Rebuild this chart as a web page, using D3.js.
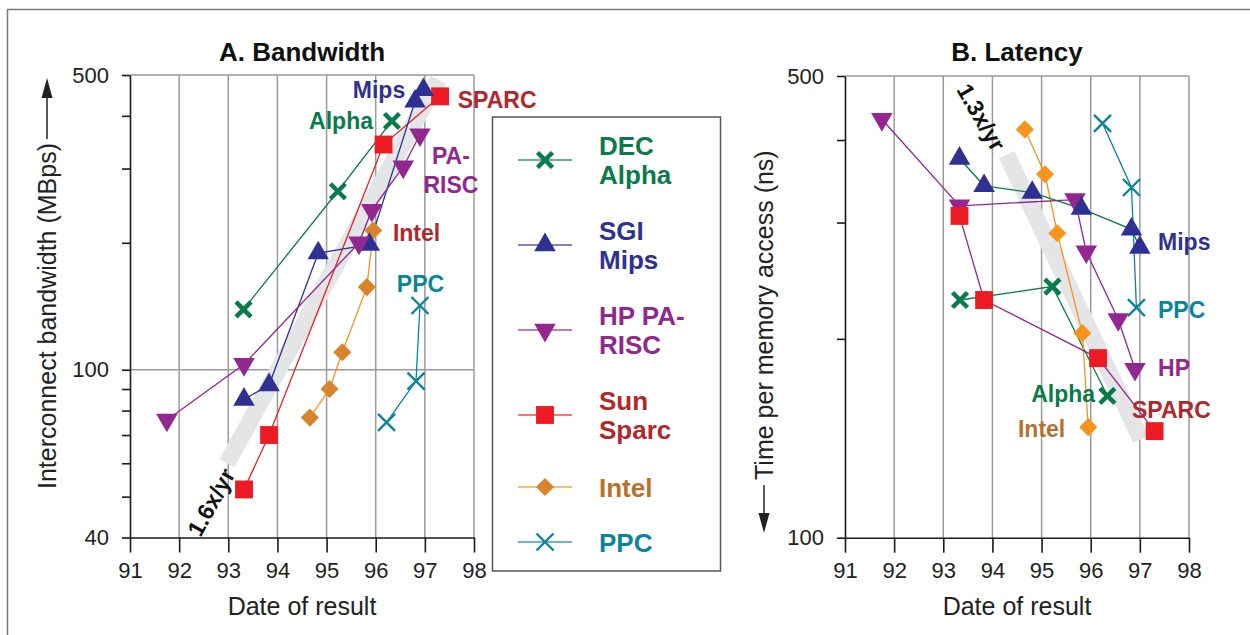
<!DOCTYPE html>
<html>
<head>
<meta charset="utf-8">
<script src="https://cdn.jsdelivr.net/npm/d3@7"></script>
<style>
  body { margin: 0; background: #fff; }
  svg { display: block; font-family: "Liberation Sans", Arial, Helvetica, sans-serif; }
</style>
</head>
<body>
<svg id="chart" width="1250" height="635"></svg>
<script>
// Two log-scale panels (bandwidth / latency) with a shared legend in between.

const YEARS = [91, 92, 93, 94, 95, 96, 97, 98];
const BW_TICKS = [40, 50, 60, 70, 80, 90, 100, 200, 300, 400, 500];
const BW_LABELED = [40, 100, 500];
const LAT_TICKS = [100, 200, 300, 400, 500];
const LAT_LABELED = [100, 500];

// A. Bandwidth, MBps — [year, value]
const bwAlpha = [[93.31, 139], [95.23, 265], [96.33, 389]];
const bwMips = [[93.32, 85], [93.83, 92], [94.83, 189], [95.87, 198], [96.80, 433], [96.97, 461]];
const bwHp = [[91.75, 76], [93.32, 103], [95.66, 200], [95.92, 239], [96.56, 303], [96.90, 361]];
const bwSparc = [[93.32, 52], [93.83, 70], [96.16, 342], [97.31, 445]];
const bwIntel = [[94.66, 77], [95.06, 90], [95.32, 110], [95.82, 157], [95.95, 214]];
const bwPpc = [[96.22, 75], [96.82, 94], [96.90, 142]];
const bwTrend = [[92.97, 60], [97.27, 487]];

// B. Latency, ns — [year, value]
const latAlpha = [[93.34, 229], [95.22, 240], [96.34, 164]];
const latMips = [[93.33, 375], [93.83, 341], [94.81, 333], [95.81, 315], [96.83, 293], [97.0, 275]];
const latHp = [[91.75, 430], [93.33, 318], [95.68, 325], [95.91, 271], [96.56, 214], [96.90, 180]];
const latSparc = [[93.33, 307], [93.83, 229], [96.15, 187], [97.30, 145]];
const latIntel = [[94.66, 415], [95.07, 355], [95.32, 289], [95.83, 204], [95.95, 147]];
const latPpc = [[96.24, 424], [96.83, 339], [96.93, 223]];
const latTrend = [[94.29, 380], [97.02, 141]];

// in-plot annotations — [year, value, text]
const bwNotes = [
  [96.60, 460, 'Mips'], [97.67, 436, 'SPARC'], [95.945, 389, 'Alpha'],
  [97.53, 322, 'PA-'], [97.53, 274, 'RISC'], [96.35, 211, 'Intel'], [96.43, 160, 'PPC'],
];
const latNotes = [
  [97.37, 280, 'Mips'], [97.37, 221, 'PPC'], [97.37, 181, 'HP'],
  [96.09, 165, 'Alpha'], [96.84, 156, 'SPARC'], [94.52, 146, 'Intel'],
];

const C = {
  alpha: '#0a7b4c', mips: '#2e3192', hp: '#92278f', sparc: '#ed1c24',
  sparcText: '#b1272d', intel: '#f7941d', intelDark: '#d8842c', intelText: '#b8702e', ppc: '#0b8599',
};

const svg = d3.select('#chart');

// page frame (top + left only)
svg.append('path')
  .attr('d', 'M7.5,635V9.5H1250')
  .attr('fill', 'none').attr('stroke', '#7a7a7a').attr('stroke-width', 1.5);

function drawMarker(g, shape, color, cx, cy) {
  if (shape === 'x' || shape === 'xthin') {
    const h = shape === 'x' ? 7.5 : 8.5;
    g.append('path')
      .attr('d', `M${-h},${-h}L${h},${h}M${-h},${h}L${h},${-h}`)
      .attr('transform', `translate(${cx},${cy})`)
      .attr('fill', 'none').attr('stroke', color)
      .attr('stroke-width', shape === 'x' ? 4.5 : 2.4);
    return;
  }
  let type = d3.symbolSquare, size = 320, rot = 0;
  if (shape === 'tri') { type = d3.symbolTriangle; size = 200; }
  if (shape === 'triDown') { type = d3.symbolTriangle; size = 200; rot = 180; }
  if (shape === 'diamond') { size = 165; rot = 45; }
  g.append('path')
    .attr('d', d3.symbol(type, size)())
    .attr('transform', `translate(${cx},${cy}) rotate(${rot})`)
    .attr('fill', color);
}

function drawPanel(p) {
  const x = d3.scaleLinear().domain([91, 98]).range([p.left, p.right]);
  const y = d3.scaleLog().domain(p.yDomain).range([p.bottom, p.top]);
  const g = svg.append('g');
  const [y0, y1] = p.yDomain;

  // grid + top/right frame
  g.append('g').selectAll('line').data(YEARS.slice(1)).join('line')
    .attr('x1', (d) => x(d)).attr('x2', (d) => x(d))
    .attr('y1', y(y0)).attr('y2', y(y1))
    .attr('stroke', '#9a9a9a').attr('stroke-width', 1.5);
  g.append('g').selectAll('line').data([...p.hGrid, y1]).join('line')
    .attr('x1', x(91)).attr('x2', x(98))
    .attr('y1', (d) => y(d)).attr('y2', (d) => y(d))
    .attr('stroke', '#9a9a9a').attr('stroke-width', 1.5);

  // trend band
  g.append('path').datum(p.trend)
    .attr('d', d3.line((d) => x(d[0]), (d) => y(d[1])))
    .attr('stroke', '#e4e5e7').attr('stroke-width', 17).attr('fill', 'none');

  // axes
  const ax = g.append('g').attr('transform', `translate(0,${y(y0)})`)
    .call(d3.axisBottom(x).tickValues(YEARS).tickFormat(d3.format('d'))
      .tickSize(15).tickSizeOuter(0).tickPadding(10));
  const ay = g.append('g').attr('transform', `translate(${x(91)},0)`)
    .call(d3.axisLeft(y).tickValues(p.ticks).tickSize(8).tickSizeOuter(0).tickPadding(13)
      .tickFormat((d) => (p.labeled.includes(d) ? d : '')));
  [ax, ay].forEach((a) => {
    a.selectAll('path, line').attr('stroke', '#1a1a1a').attr('stroke-width', 1.6);
    a.selectAll('text').attr('font-size', 22).attr('fill', '#222').attr('font-family', null);
  });

  // series
  p.series.forEach((s) => {
    g.append('path').datum(s.data)
      .attr('d', d3.line((d) => x(d[0]), (d) => y(d[1])))
      .attr('fill', 'none').attr('stroke', s.line).attr('stroke-width', 1.3);
  });
  p.series.forEach((s) => {
    s.data.forEach((d) => drawMarker(g, s.shape, s.fill, x(d[0]), y(d[1])));
  });

  // annotations
  p.notes.forEach(([yr, v, t]) => {
    const st = p.noteStyle[t];
    g.append('text').attr('x', x(yr)).attr('y', y(v)).attr('dy', '0.35em')
      .attr('text-anchor', st[1]).attr('font-size', 23).attr('font-weight', 'bold')
      .attr('fill', st[0]).text(t);
  });
  g.append('text')
    .attr('transform', `translate(${x(p.rate[0])},${y(p.rate[1])}) rotate(${p.rate[2]})`)
    .attr('text-anchor', 'middle').attr('dy', '0.35em')
    .attr('font-size', 23).attr('font-weight', 'bold').attr('fill', '#111').text(p.rate[3]);

  // titles
  const cx = (p.left + p.right) / 2;
  g.append('text').attr('x', cx).attr('y', 61).attr('text-anchor', 'middle')
    .attr('font-size', 26).attr('font-weight', 'bold').attr('fill', '#111').text(p.title);
  g.append('text').attr('x', cx).attr('y', 615).attr('text-anchor', 'middle')
    .attr('font-size', 25).attr('fill', '#222').text('Date of result');
}

drawPanel({
  left: 130, right: 474, top: 75, bottom: 537.5,
  yDomain: [40, 500], ticks: BW_TICKS, labeled: BW_LABELED, hGrid: [100],
  trend: bwTrend, title: 'A. Bandwidth',
  rate: [92.65, 48.5, -61, '1.6x/yr'],
  series: [
    { data: bwAlpha, line: C.alpha, fill: C.alpha, shape: 'x' },
    { data: bwIntel, line: C.intel, fill: C.intelDark, shape: 'diamond' },
    { data: bwPpc, line: C.ppc, fill: C.ppc, shape: 'xthin' },
    { data: bwSparc, line: C.sparc, fill: C.sparc, shape: 'square' },
    { data: bwMips, line: C.mips, fill: C.mips, shape: 'tri' },
    { data: bwHp, line: C.hp, fill: C.hp, shape: 'triDown' },
  ],
  notes: bwNotes,
  noteStyle: {
    Mips: [C.mips, 'end'], SPARC: [C.sparcText, 'start'], Alpha: [C.alpha, 'end'],
    'PA-': [C.hp, 'middle'], RISC: [C.hp, 'middle'], Intel: [C.sparcText, 'start'], PPC: [C.ppc, 'start'],
  },
});

drawPanel({
  left: 845, right: 1189, top: 76, bottom: 537.7,
  yDomain: [100, 500], ticks: LAT_TICKS, labeled: LAT_LABELED, hGrid: [],
  trend: latTrend, title: 'B. Latency',
  rate: [93.77, 433, 60, '1.3x/yr'],
  series: [
    { data: latAlpha, line: C.alpha, fill: C.alpha, shape: 'x' },
    { data: latIntel, line: C.intel, fill: C.intel, shape: 'diamond' },
    { data: latPpc, line: C.ppc, fill: C.ppc, shape: 'xthin' },
    { data: latHp, line: C.hp, fill: C.hp, shape: 'triDown' },
    { data: latMips, line: C.alpha, fill: C.mips, shape: 'tri' },
    { data: latSparc, line: C.hp, fill: C.sparc, shape: 'square' },
  ],
  notes: latNotes,
  noteStyle: {
    Mips: [C.mips, 'start'], PPC: [C.ppc, 'start'], HP: [C.hp, 'start'],
    Alpha: [C.alpha, 'end'], SPARC: [C.sparcText, 'start'], Intel: [C.intelText, 'start'],
  },
});

// rotated y-axis titles with arrows
function yTitle(cx, startY, text, dir) {
  const g = svg.append('g');
  const t = g.append('text').attr('transform', `translate(${cx + 9},${startY}) rotate(-90)`)
    .attr('font-size', 25).attr('fill', '#222').text(text);
  const len = t.node().getComputedTextLength();
  if (dir === 'up') {
    const end = startY - len - 4;
    g.append('line').attr('x1', cx).attr('x2', cx).attr('y1', end).attr('y2', 96)
      .attr('stroke', '#222').attr('stroke-width', 1.5);
    g.append('path').attr('d', `M${cx},78L${cx - 5.5},98L${cx + 5.5},98Z`).attr('fill', '#222');
  } else {
    g.append('line').attr('x1', cx).attr('x2', cx).attr('y1', startY + 5).attr('y2', 514)
      .attr('stroke', '#222').attr('stroke-width', 1.5);
    g.append('path').attr('d', `M${cx},533L${cx - 5.5},513L${cx + 5.5},513Z`).attr('fill', '#222');
  }
}
yTitle(47, 489, 'Interconnect bandwidth (MBps)', 'up');
yTitle(764, 480, 'Time per memory access (ns)', 'down');

// legend
const legendItems = [
  { lines: ['DEC', 'Alpha'], y: 160, line: C.alpha, fill: C.alpha, text: C.alpha, shape: 'x' },
  { lines: ['SGI', 'Mips'], y: 245, line: C.mips, fill: C.mips, text: C.mips, shape: 'tri' },
  { lines: ['HP PA-', 'RISC'], y: 330, line: C.hp, fill: C.hp, text: C.hp, shape: 'triDown' },
  { lines: ['Sun', 'Sparc'], y: 415, line: C.sparc, fill: C.sparc, text: C.sparcText, shape: 'square' },
  { lines: ['Intel'], y: 487, line: C.intel, fill: C.intelDark, text: C.intelText, shape: 'diamond' },
  { lines: ['PPC'], y: 542, line: C.ppc, fill: C.ppc, text: C.ppc, shape: 'xthin' },
];
const lg = svg.append('g');
lg.append('rect').attr('x', 492.5).attr('y', 117).attr('width', 228).attr('height', 454)
  .attr('fill', '#fff').attr('stroke', '#555').attr('stroke-width', 1.5);
legendItems.forEach((it) => {
  lg.append('line').attr('x1', 518).attr('x2', 572).attr('y1', it.y).attr('y2', it.y)
    .attr('stroke', it.line).attr('stroke-width', 1.5).attr('stroke-opacity', 0.8);
  drawMarker(lg, it.shape, it.fill, 545, it.y);
  const base = it.lines.length === 2 ? it.y - 5 : it.y + 9.5;
  it.lines.forEach((s, i) => {
    lg.append('text').attr('x', 599).attr('y', base + i * 29)
      .attr('font-size', 26).attr('font-weight', 'bold').attr('fill', it.text).text(s);
  });
});
</script>
</body>
</html>
